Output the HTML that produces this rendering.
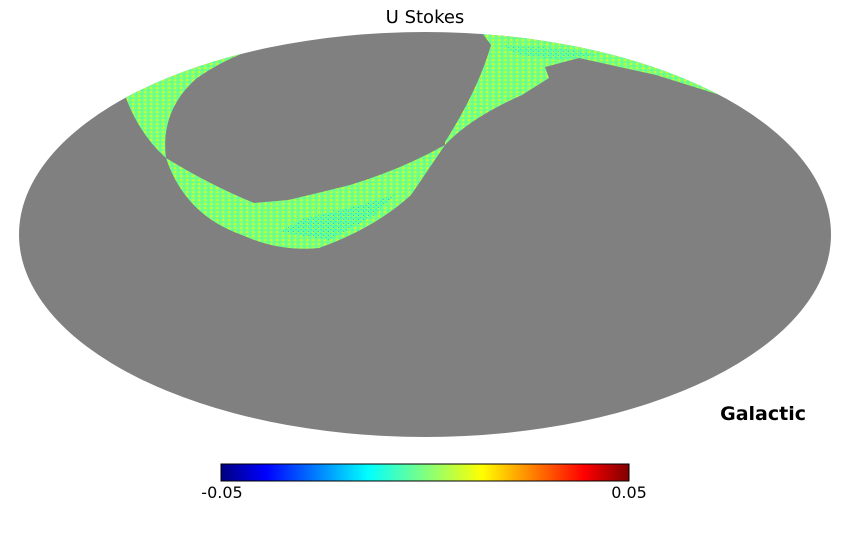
<!DOCTYPE html>
<html><head><style>
body{margin:0;background:#fff;width:850px;height:540px;overflow:hidden;font-family:"DejaVu Sans","Liberation Sans",sans-serif}
</style></head><body>
<svg width="850" height="540" viewBox="0 0 850 540">
<defs>
<clipPath id="e"><ellipse cx="425" cy="234.5" rx="406" ry="202.5"/></clipPath>
<pattern id="p" width="6" height="4" patternUnits="userSpaceOnUse">
<rect width="6" height="4" fill="#80ff78"/>
<rect x="0" y="0" width="2" height="1" fill="#c8ff30"/>
<rect x="3" y="2" width="2" height="1" fill="#40ffb8"/>
<rect x="1" y="3" width="1" height="1" fill="#e8ff10"/>
<rect x="4" y="0" width="1" height="2" fill="#60ff98"/>
</pattern>
<pattern id="q" width="5" height="4" patternUnits="userSpaceOnUse">
<rect width="5" height="4" fill="#50ffa8"/>
<rect x="0" y="1" width="2" height="1" fill="#10e0ff"/>
<rect x="3" y="3" width="1" height="1" fill="#2090ff"/>
<rect x="2" y="0" width="2" height="1" fill="#b0ff40"/>
</pattern>
<linearGradient id="cb" x1="0" x2="1">
<stop offset="0" stop-color="#00007f"/><stop offset="0.11" stop-color="#0000ff"/>
<stop offset="0.36" stop-color="#00ffff"/><stop offset="0.5" stop-color="#80ff80"/>
<stop offset="0.64" stop-color="#ffff00"/><stop offset="0.89" stop-color="#ff0000"/>
<stop offset="1" stop-color="#7f0000"/></linearGradient>
</defs>
<text x="425" y="23" font-size="18" text-anchor="middle" fill="#000">U Stokes</text>
<ellipse cx="425" cy="234.5" rx="406" ry="202.5" fill="#808080"/>
<g clip-path="url(#e)">
<path fill="url(#p)" d="M110,90 L126,98 Q140,135 166,158 Q160,110 197,78 Q220,62 246,52 L250,35 Z"/>
<path fill="url(#p)" d="M166,158 Q185,215 242,235 Q280,252 319,248 Q375,228 411,195 L445,145 Q400,170 350,185 Q310,195 288,200 L254,203 Q210,185 166,158 Z"/>
<path fill="url(#p)" d="M445,145 Q470,118 522,95 L549,78 L545,67 L579,58 L656,75 L720,95 L730,30 L480,30 L491,45 Q478,90 445,142 Z"/>
<path fill="url(#q)" opacity="0.6" d="M280,232 L330,240 L375,215 L395,195 L360,205 L300,220 Z"/>
<path fill="url(#q)" opacity="0.5" d="M500,45 L560,48 L600,55 L560,60 L520,55 Z"/>
</g>
<text x="806" y="420" font-size="19" font-weight="bold" text-anchor="end" fill="#000">Galactic</text>
<rect x="221" y="464" width="408" height="17" fill="url(#cb)" stroke="#000" stroke-width="1"/>
<text x="222" y="498" font-size="16" text-anchor="middle">-0.05</text>
<text x="629" y="498" font-size="16" text-anchor="middle">0.05</text>
</svg>
</body></html>
